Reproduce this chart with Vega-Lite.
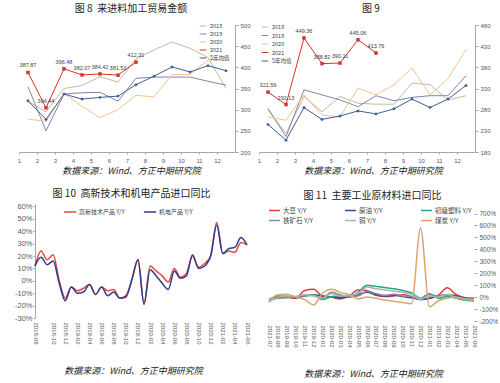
{
  "$schema": "https://vega.github.io/schema/vega-lite/v6.json",
  "padding": {"left": 14, "top": 4, "right": 0, "bottom": 0},
  "background": "white",
  "config": {
    "view": {"stroke": null},
    "font": "Noto Sans CJK SC",
    "title": {"font": "Noto Sans CJK SC", "fontSize": 10, "fontWeight": "normal", "color": "#222222", "offset": 8},
    "axis": {"labelFont": "Liberation Sans", "labelColor": "#595959", "domainColor": "#a6a6a6", "tickColor": "#a6a6a6", "grid": false, "titleFont": "Noto Sans CJK SC", "titleFontStyle": "italic", "titleFontWeight": "normal", "titleFontSize": 9, "titleColor": "#222222"},
    "legend": {"labelFont": "Noto Sans CJK SC", "labelColor": "#404040", "title": null, "padding": 0}
  },
  "resolve": {"scale": {"color": "independent", "shape": "independent", "strokeWidth": "independent", "x": "independent", "y": "independent"}},
  "columns": 2,
  "align": "each",
  "spacing": {"row": 14, "column": 6},
  "datasets": {
    "p1": [
      {"m": 1, "s": "2018", "v": 320}, {"m": 2, "s": "2018", "v": 295}, {"m": 3, "s": "2018", "v": 350}, {"m": 4, "s": "2018", "v": 357}, {"m": 5, "s": "2018", "v": 378}, {"m": 6, "s": "2018", "v": 365}, {"m": 7, "s": "2018", "v": 420}, {"m": 8, "s": "2018", "v": 441}, {"m": 9, "s": "2018", "v": 460}, {"m": 10, "s": "2018", "v": 445}, {"m": 11, "s": "2018", "v": 423}, {"m": 12, "s": "2018", "v": 350},
      {"m": 1, "s": "2019", "v": 354}, {"m": 2, "s": "2019", "v": 250}, {"m": 3, "s": "2019", "v": 337}, {"m": 4, "s": "2019", "v": 340}, {"m": 5, "s": "2019", "v": 341}, {"m": 6, "s": "2019", "v": 320}, {"m": 7, "s": "2019", "v": 374}, {"m": 8, "s": "2019", "v": 377}, {"m": 9, "s": "2019", "v": 377}, {"m": 10, "s": "2019", "v": 377}, {"m": 11, "s": "2019", "v": 367}, {"m": 12, "s": "2019", "v": 358},
      {"m": 1, "s": "2020", "v": 278}, {"m": 2, "s": "2020", "v": 272}, {"m": 3, "s": "2020", "v": 338}, {"m": 4, "s": "2020", "v": 308}, {"m": 5, "s": "2020", "v": 281}, {"m": 6, "s": "2020", "v": 300}, {"m": 7, "s": "2020", "v": 334}, {"m": 8, "s": "2020", "v": 330}, {"m": 9, "s": "2020", "v": 383}, {"m": 10, "s": "2020", "v": 383}, {"m": 11, "s": "2020", "v": 417}, {"m": 12, "s": "2020", "v": 417},
      {"m": 1, "s": "2021", "v": 387.87}, {"m": 2, "s": "2021", "v": 304.44}, {"m": 3, "s": "2021", "v": 396.48}, {"m": 4, "s": "2021", "v": 382.07}, {"m": 5, "s": "2021", "v": 384.42}, {"m": 6, "s": "2021", "v": 381.53}, {"m": 7, "s": "2021", "v": 412.31},
      {"m": 1, "s": "5年均值", "v": 321}, {"m": 2, "s": "5年均值", "v": 277}, {"m": 3, "s": "5年均值", "v": 337}, {"m": 4, "s": "5年均值", "v": 325}, {"m": 5, "s": "5年均值", "v": 329}, {"m": 6, "s": "5年均值", "v": 332}, {"m": 7, "s": "5年均值", "v": 359}, {"m": 8, "s": "5年均值", "v": 379}, {"m": 9, "s": "5年均值", "v": 401}, {"m": 10, "s": "5年均值", "v": 389}, {"m": 11, "s": "5年均值", "v": 404}, {"m": 12, "s": "5年均值", "v": 392}
    ],
    "p2": [
      {"m": 1, "s": "2018", "v": 279}, {"m": 2, "s": "2018", "v": 224}, {"m": 3, "s": "2018", "v": 311}, {"m": 4, "s": "2018", "v": 275}, {"m": 5, "s": "2018", "v": 311}, {"m": 6, "s": "2018", "v": 295}, {"m": 7, "s": "2018", "v": 293}, {"m": 8, "s": "2018", "v": 293}, {"m": 9, "s": "2018", "v": 343}, {"m": 10, "s": "2018", "v": 339}, {"m": 11, "s": "2018", "v": 303}, {"m": 12, "s": "2018", "v": 313},
      {"m": 1, "s": "2019", "v": 283}, {"m": 2, "s": "2019", "v": 216}, {"m": 3, "s": "2019", "v": 327}, {"m": 4, "s": "2019", "v": 315}, {"m": 5, "s": "2019", "v": 303}, {"m": 6, "s": "2019", "v": 287}, {"m": 7, "s": "2019", "v": 313}, {"m": 8, "s": "2019", "v": 301}, {"m": 9, "s": "2019", "v": 309}, {"m": 10, "s": "2019", "v": 313}, {"m": 11, "s": "2019", "v": 313}, {"m": 12, "s": "2019", "v": 360},
      {"m": 1, "s": "2020", "v": 263}, {"m": 2, "s": "2020", "v": 255}, {"m": 3, "s": "2020", "v": 315}, {"m": 4, "s": "2020", "v": 267}, {"m": 5, "s": "2020", "v": 263}, {"m": 6, "s": "2020", "v": 331}, {"m": 7, "s": "2020", "v": 315}, {"m": 8, "s": "2020", "v": 339}, {"m": 9, "s": "2020", "v": 378}, {"m": 10, "s": "2020", "v": 315}, {"m": 11, "s": "2020", "v": 353}, {"m": 12, "s": "2020", "v": 422},
      {"m": 1, "s": "2021", "v": 321.59}, {"m": 2, "s": "2021", "v": 292.13}, {"m": 3, "s": "2021", "v": 449.36}, {"m": 4, "s": "2021", "v": 388.82}, {"m": 5, "s": "2021", "v": 390.11}, {"m": 6, "s": "2021", "v": 445.06}, {"m": 7, "s": "2021", "v": 413.76},
      {"m": 1, "s": "5年均值", "v": 245}, {"m": 2, "s": "5年均值", "v": 208}, {"m": 3, "s": "5年均值", "v": 285}, {"m": 4, "s": "5年均值", "v": 257}, {"m": 5, "s": "5年均值", "v": 265}, {"m": 6, "s": "5年均值", "v": 277}, {"m": 7, "s": "5年均值", "v": 270}, {"m": 8, "s": "5年均值", "v": 282}, {"m": 9, "s": "5年均值", "v": 305}, {"m": 10, "s": "5年均值", "v": 285}, {"m": 11, "s": "5年均值", "v": 305}, {"m": 12, "s": "5年均值", "v": 337}
    ],
    "p3": [
      {"d": "2018-08", "a": 12, "b": 12}, {"d": "2018-09", "a": 17, "b": 13}, {"d": "2018-10", "a": 21, "b": 16}, {"d": "2018-11", "a": 0, "b": -2}, {"d": "2018-12", "a": -14, "b": -16},
      {"d": "2019-01", "a": -5, "b": -5}, {"d": "2019-02", "a": -8, "b": -10}, {"d": "2019-03", "a": -6, "b": -9}, {"d": "2019-04", "a": -3, "b": -3}, {"d": "2019-05", "a": -11, "b": -11}, {"d": "2019-06", "a": -5, "b": -5}, {"d": "2019-07", "a": -8, "b": -12}, {"d": "2019-08", "a": -7, "b": -9}, {"d": "2019-09", "a": -14, "b": -14}, {"d": "2019-10", "a": -12, "b": -13}, {"d": "2019-11", "a": 1, "b": 1}, {"d": "2019-12", "a": 17, "b": 17},
      {"d": "2020-01", "a": -18, "b": -19}, {"d": "2020-02", "a": 12, "b": 9}, {"d": "2020-03", "a": 8, "b": 4}, {"d": "2020-04", "a": 4, "b": -2}, {"d": "2020-05", "a": -1, "b": -7}, {"d": "2020-06", "a": 10, "b": 8}, {"d": "2020-07", "a": 3, "b": 2}, {"d": "2020-08", "a": 6, "b": 4}, {"d": "2020-09", "a": 20, "b": 21}, {"d": "2020-10", "a": 11, "b": 10}, {"d": "2020-11", "a": 14, "b": 12}, {"d": "2020-12", "a": 20, "b": 20},
      {"d": "2021-01", "a": 47, "b": 45}, {"d": "2021-02", "a": 22, "b": 22}, {"d": "2021-03", "a": 24, "b": 26}, {"d": "2021-04", "a": 23, "b": 27}, {"d": "2021-05", "a": 31, "b": 35}, {"d": "2021-06", "a": 29, "b": 29}, {"d": "2021-07", "a": 24, "b": 19}
    ],
    "p4": [
      {"d": "2019-08", "s": "大豆 Y/Y", "v": 5}, {"d": "2019-09", "s": "大豆 Y/Y", "v": 0}, {"d": "2019-10", "s": "大豆 Y/Y", "v": -10}, {"d": "2019-11", "s": "大豆 Y/Y", "v": 55}, {"d": "2019-12", "s": "大豆 Y/Y", "v": 65}, {"d": "2020-01", "s": "大豆 Y/Y", "v": 10}, {"d": "2020-02", "s": "大豆 Y/Y", "v": 0}, {"d": "2020-03", "s": "大豆 Y/Y", "v": -15}, {"d": "2020-04", "s": "大豆 Y/Y", "v": 10}, {"d": "2020-05", "s": "大豆 Y/Y", "v": 60}, {"d": "2020-06", "s": "大豆 Y/Y", "v": 55}, {"d": "2020-07", "s": "大豆 Y/Y", "v": 15}, {"d": "2020-08", "s": "大豆 Y/Y", "v": 5}, {"d": "2020-09", "s": "大豆 Y/Y", "v": 10}, {"d": "2020-10", "s": "大豆 Y/Y", "v": 20}, {"d": "2020-11", "s": "大豆 Y/Y", "v": 5}, {"d": "2020-12", "s": "大豆 Y/Y", "v": -20}, {"d": "2021-01", "s": "大豆 Y/Y", "v": -10}, {"d": "2021-02", "s": "大豆 Y/Y", "v": 15}, {"d": "2021-03", "s": "大豆 Y/Y", "v": 78}, {"d": "2021-04", "s": "大豆 Y/Y", "v": 20}, {"d": "2021-05", "s": "大豆 Y/Y", "v": -5}, {"d": "2021-06", "s": "大豆 Y/Y", "v": -10}, {"d": "2021-07", "s": "大豆 Y/Y", "v": -20},
      {"d": "2019-08", "s": "原油 Y/Y", "v": 0}, {"d": "2019-09", "s": "原油 Y/Y", "v": 5}, {"d": "2019-10", "s": "原油 Y/Y", "v": -5}, {"d": "2019-11", "s": "原油 Y/Y", "v": 10}, {"d": "2019-12", "s": "原油 Y/Y", "v": 20}, {"d": "2020-01", "s": "原油 Y/Y", "v": 10}, {"d": "2020-02", "s": "原油 Y/Y", "v": 0}, {"d": "2020-03", "s": "原油 Y/Y", "v": -5}, {"d": "2020-04", "s": "原油 Y/Y", "v": 0}, {"d": "2020-05", "s": "原油 Y/Y", "v": 20}, {"d": "2020-06", "s": "原油 Y/Y", "v": 40}, {"d": "2020-07", "s": "原油 Y/Y", "v": 20}, {"d": "2020-08", "s": "原油 Y/Y", "v": 10}, {"d": "2020-09", "s": "原油 Y/Y", "v": 15}, {"d": "2020-10", "s": "原油 Y/Y", "v": 5}, {"d": "2020-11", "s": "原油 Y/Y", "v": -5}, {"d": "2020-12", "s": "原油 Y/Y", "v": -20}, {"d": "2021-01", "s": "原油 Y/Y", "v": -10}, {"d": "2021-02", "s": "原油 Y/Y", "v": 10}, {"d": "2021-03", "s": "原油 Y/Y", "v": 20}, {"d": "2021-04", "s": "原油 Y/Y", "v": 10}, {"d": "2021-05", "s": "原油 Y/Y", "v": -10}, {"d": "2021-06", "s": "原油 Y/Y", "v": -25}, {"d": "2021-07", "s": "原油 Y/Y", "v": -30},
      {"d": "2019-08", "s": "初级塑料 Y/Y", "v": 10}, {"d": "2019-09", "s": "初级塑料 Y/Y", "v": 5}, {"d": "2019-10", "s": "初级塑料 Y/Y", "v": 0}, {"d": "2019-11", "s": "初级塑料 Y/Y", "v": 20}, {"d": "2019-12", "s": "初级塑料 Y/Y", "v": 15}, {"d": "2020-01", "s": "初级塑料 Y/Y", "v": -20}, {"d": "2020-02", "s": "初级塑料 Y/Y", "v": 5}, {"d": "2020-03", "s": "初级塑料 Y/Y", "v": 10}, {"d": "2020-04", "s": "初级塑料 Y/Y", "v": 0}, {"d": "2020-05", "s": "初级塑料 Y/Y", "v": 40}, {"d": "2020-06", "s": "初级塑料 Y/Y", "v": 100}, {"d": "2020-07", "s": "初级塑料 Y/Y", "v": 90}, {"d": "2020-08", "s": "初级塑料 Y/Y", "v": 80}, {"d": "2020-09", "s": "初级塑料 Y/Y", "v": 70}, {"d": "2020-10", "s": "初级塑料 Y/Y", "v": 55}, {"d": "2020-11", "s": "初级塑料 Y/Y", "v": 35}, {"d": "2020-12", "s": "初级塑料 Y/Y", "v": -10}, {"d": "2021-01", "s": "初级塑料 Y/Y", "v": 30}, {"d": "2021-02", "s": "初级塑料 Y/Y", "v": -10}, {"d": "2021-03", "s": "初级塑料 Y/Y", "v": 5}, {"d": "2021-04", "s": "初级塑料 Y/Y", "v": -10}, {"d": "2021-05", "s": "初级塑料 Y/Y", "v": -25}, {"d": "2021-06", "s": "初级塑料 Y/Y", "v": -35}, {"d": "2021-07", "s": "初级塑料 Y/Y", "v": -40},
      {"d": "2019-08", "s": "铁矿石 Y/Y", "v": -10}, {"d": "2019-09", "s": "铁矿石 Y/Y", "v": -5}, {"d": "2019-10", "s": "铁矿石 Y/Y", "v": 5}, {"d": "2019-11", "s": "铁矿石 Y/Y", "v": 10}, {"d": "2019-12", "s": "铁矿石 Y/Y", "v": 15}, {"d": "2020-01", "s": "铁矿石 Y/Y", "v": -5}, {"d": "2020-02", "s": "铁矿石 Y/Y", "v": 40}, {"d": "2020-03", "s": "铁矿石 Y/Y", "v": 20}, {"d": "2020-04", "s": "铁矿石 Y/Y", "v": 5}, {"d": "2020-05", "s": "铁矿石 Y/Y", "v": 10}, {"d": "2020-06", "s": "铁矿石 Y/Y", "v": 50}, {"d": "2020-07", "s": "铁矿石 Y/Y", "v": 30}, {"d": "2020-08", "s": "铁矿石 Y/Y", "v": 15}, {"d": "2020-09", "s": "铁矿石 Y/Y", "v": 25}, {"d": "2020-10", "s": "铁矿石 Y/Y", "v": 10}, {"d": "2020-11", "s": "铁矿石 Y/Y", "v": 5}, {"d": "2020-12", "s": "铁矿石 Y/Y", "v": -20}, {"d": "2021-01", "s": "铁矿石 Y/Y", "v": 20}, {"d": "2021-02", "s": "铁矿石 Y/Y", "v": 10}, {"d": "2021-03", "s": "铁矿石 Y/Y", "v": 20}, {"d": "2021-04", "s": "铁矿石 Y/Y", "v": 0}, {"d": "2021-05", "s": "铁矿石 Y/Y", "v": -15}, {"d": "2021-06", "s": "铁矿石 Y/Y", "v": -25}, {"d": "2021-07", "s": "铁矿石 Y/Y", "v": -30},
      {"d": "2019-08", "s": "铜 Y/Y", "v": 0}, {"d": "2019-09", "s": "铜 Y/Y", "v": 10}, {"d": "2019-10", "s": "铜 Y/Y", "v": 5}, {"d": "2019-11", "s": "铜 Y/Y", "v": 20}, {"d": "2019-12", "s": "铜 Y/Y", "v": 10}, {"d": "2020-01", "s": "铜 Y/Y", "v": -10}, {"d": "2020-02", "s": "铜 Y/Y", "v": 30}, {"d": "2020-03", "s": "铜 Y/Y", "v": 10}, {"d": "2020-04", "s": "铜 Y/Y", "v": 15}, {"d": "2020-05", "s": "铜 Y/Y", "v": 30}, {"d": "2020-06", "s": "铜 Y/Y", "v": 85}, {"d": "2020-07", "s": "铜 Y/Y", "v": 70}, {"d": "2020-08", "s": "铜 Y/Y", "v": 60}, {"d": "2020-09", "s": "铜 Y/Y", "v": 50}, {"d": "2020-10", "s": "铜 Y/Y", "v": 40}, {"d": "2020-11", "s": "铜 Y/Y", "v": 25}, {"d": "2020-12", "s": "铜 Y/Y", "v": -15}, {"d": "2021-01", "s": "铜 Y/Y", "v": 10}, {"d": "2021-02", "s": "铜 Y/Y", "v": 0}, {"d": "2021-03", "s": "铜 Y/Y", "v": 25}, {"d": "2021-04", "s": "铜 Y/Y", "v": -5}, {"d": "2021-05", "s": "铜 Y/Y", "v": -15}, {"d": "2021-06", "s": "铜 Y/Y", "v": -30}, {"d": "2021-07", "s": "铜 Y/Y", "v": -35},
      {"d": "2019-08", "s": "煤炭 Y/Y", "v": 20}, {"d": "2019-09", "s": "煤炭 Y/Y", "v": 25}, {"d": "2019-10", "s": "煤炭 Y/Y", "v": 0}, {"d": "2019-11", "s": "煤炭 Y/Y", "v": -20}, {"d": "2019-12", "s": "煤炭 Y/Y", "v": -65}, {"d": "2020-01", "s": "煤炭 Y/Y", "v": 30}, {"d": "2020-02", "s": "煤炭 Y/Y", "v": 65}, {"d": "2020-03", "s": "煤炭 Y/Y", "v": 40}, {"d": "2020-04", "s": "煤炭 Y/Y", "v": 20}, {"d": "2020-05", "s": "煤炭 Y/Y", "v": -15}, {"d": "2020-06", "s": "煤炭 Y/Y", "v": 0}, {"d": "2020-07", "s": "煤炭 Y/Y", "v": -10}, {"d": "2020-08", "s": "煤炭 Y/Y", "v": -25}, {"d": "2020-09", "s": "煤炭 Y/Y", "v": -35}, {"d": "2020-10", "s": "煤炭 Y/Y", "v": -45}, {"d": "2020-11", "s": "煤炭 Y/Y", "v": -55}, {"d": "2020-12", "s": "煤炭 Y/Y", "v": 580}, {"d": "2021-01", "s": "煤炭 Y/Y", "v": -80}, {"d": "2021-02", "s": "煤炭 Y/Y", "v": -30}, {"d": "2021-03", "s": "煤炭 Y/Y", "v": -10}, {"d": "2021-04", "s": "煤炭 Y/Y", "v": 0}, {"d": "2021-05", "s": "煤炭 Y/Y", "v": -15}, {"d": "2021-06", "s": "煤炭 Y/Y", "v": -20}, {"d": "2021-07", "s": "煤炭 Y/Y", "v": -30}
    ]
  },
  "concat": [
    {
      "width": 216, "height": 127,
      "title": {"text": "图 8\u00a0\u00a0来进料加工贸易金额", "dx": 4},
      "data": {"name": "p1"},
      "encoding": {
        "x": {"field": "m", "type": "quantitative", "scale": {"domain": [0.5, 12.5], "nice": false}, "axis": {"values": [1, 2, 3, 4, 5, 6, 7, 8, 9, 10, 11, 12], "labelFontSize": 6, "tickSize": 2, "tickOffset": -9, "labelPadding": 3, "title": "数据来源：Wind、方正中期研究院", "titlePadding": 3, "titleX": 112}},
        "y": {"field": "v", "type": "quantitative", "scale": {"domain": [200, 500], "nice": false, "zero": false}, "axis": {"orient": "right", "values": [200, 250, 300, 350, 400, 450, 500], "labelFontSize": 6, "tickSize": 3, "labelPadding": 2, "title": null}}
      },
      "layer": [
        {
          "mark": {"type": "line", "strokeJoin": "round"},
          "encoding": {
            "color": {"field": "s", "type": "nominal", "scale": {"domain": ["2018", "2019", "2020", "2021", "5年均值"], "range": ["#c4b9a4", "#7d86b3", "#f5c38f", "#d0342c", "#3f5f95"]},
              "legend": {"orient": "none", "legendX": 180, "legendY": -3, "symbolType": "stroke", "symbolSize": 45, "symbolStrokeWidth": 1.5, "labelFontSize": 5.5, "rowPadding": 0, "labelOffset": 3}},
            "strokeWidth": {"field": "s", "type": "nominal", "scale": {"domain": ["2018", "2019", "2020", "2021", "5年均值"], "range": [1, 1, 1, 2.2, 1]}, "legend": null}
          }
        },
        {
          "transform": [{"filter": "datum.s === '2021' || datum.s === '5年均值'"}],
          "mark": {"type": "point", "filled": true, "opacity": 1, "size": 12},
          "encoding": {
            "color": {"field": "s", "type": "nominal", "scale": {"domain": ["2018", "2019", "2020", "2021", "5年均值"], "range": ["#c4b9a4", "#7d86b3", "#f5c38f", "#d0342c", "#3f5f95"]}, "legend": null},
            "shape": {"field": "s", "type": "nominal", "scale": {"domain": ["2021", "5年均值"], "range": ["square", "diamond"]}, "legend": null}
          }
        },
        {
          "transform": [{"filter": "datum.s === '2021'"}],
          "mark": {"type": "text", "dy": -7, "fontSize": 5.5, "color": "#404040", "font": "Liberation Sans"},
          "encoding": {"text": {"field": "v", "type": "quantitative", "format": ".2f"}}
        },
        {
          "data": {"values": [{}]},
          "mark": {"type": "text", "color": "#d0342c", "fontSize": 7.5, "fontWeight": "bold", "font": "Noto Sans CJK SC"},
          "encoding": {"x": {"datum": 6.74, "type": "quantitative"}, "y": {"datum": 490, "type": "quantitative"}, "text": {"value": "进口：来进料加工贸易"}}
        }
      ]
    },
    {
      "width": 216, "height": 127,
      "title": {"text": "图 9", "dx": 4},
      "data": {"name": "p2"},
      "encoding": {
        "x": {"field": "m", "type": "quantitative", "scale": {"domain": [0.5, 12.5], "nice": false}, "axis": {"values": [1, 2, 3, 4, 5, 6, 7, 8, 9, 10, 11, 12], "labelFontSize": 6, "tickSize": 2, "tickOffset": -9, "labelPadding": 3, "title": "数据来源：Wind、方正中期研究院", "titlePadding": 3, "titleX": 114}},
        "y": {"field": "v", "type": "quantitative", "scale": {"domain": [180, 480], "nice": false, "zero": false}, "axis": {"orient": "right", "values": [180, 230, 280, 330, 380, 430, 480], "labelFontSize": 6, "tickSize": 3, "labelPadding": 2, "title": null}}
      },
      "layer": [
        {
          "mark": {"type": "line", "strokeJoin": "round"},
          "encoding": {
            "color": {"field": "s", "type": "nominal", "scale": {"domain": ["2018", "2019", "2020", "2021", "5年均值"], "range": ["#c4b9a4", "#7d86b3", "#f5c38f", "#d0342c", "#3f5f95"]},
              "legend": {"orient": "none", "legendX": 2, "legendY": -2, "symbolType": "stroke", "symbolSize": 45, "symbolStrokeWidth": 1.5, "labelFontSize": 5.5, "rowPadding": 0.5, "labelOffset": 3}},
            "strokeWidth": {"field": "s", "type": "nominal", "scale": {"domain": ["2018", "2019", "2020", "2021", "5年均值"], "range": [1, 1, 1, 2.2, 1]}, "legend": null}
          }
        },
        {
          "transform": [{"filter": "datum.s === '2021' || datum.s === '5年均值'"}],
          "mark": {"type": "point", "filled": true, "opacity": 1, "size": 12},
          "encoding": {
            "color": {"field": "s", "type": "nominal", "scale": {"domain": ["2018", "2019", "2020", "2021", "5年均值"], "range": ["#c4b9a4", "#7d86b3", "#f5c38f", "#d0342c", "#3f5f95"]}, "legend": null},
            "shape": {"field": "s", "type": "nominal", "scale": {"domain": ["2021", "5年均值"], "range": ["square", "diamond"]}, "legend": null}
          }
        },
        {
          "transform": [{"filter": "datum.s === '2021'"}],
          "mark": {"type": "text", "dy": -7, "fontSize": 5.5, "color": "#404040", "font": "Liberation Sans"},
          "encoding": {"text": {"field": "v", "type": "quantitative", "format": ".2f"}}
        },
        {
          "data": {"values": [{}]},
          "mark": {"type": "text", "color": "#d0342c", "fontSize": 7.5, "fontWeight": "bold", "font": "Noto Sans CJK SC"},
          "encoding": {"x": {"datum": 6.77, "type": "quantitative"}, "y": {"datum": 470, "type": "quantitative"}, "text": {"value": "进口：海关监管和保税区贸易"}}
        }
      ]
    },
    {
      "width": 231, "height": 114,
      "title": {"text": "图 10\u00a0\u00a0高新技术和机电产品进口同比", "dx": -3, "offset": 3},
      "data": {"name": "p3"},
      "transform": [{"fold": ["a", "b"], "as": ["k", "v"]}, {"calculate": "datum.k === 'a' ? '高新技术产品 Y/Y' : '机电产品 Y/Y'", "as": "s"}],
      "encoding": {
        "x": {"field": "d", "type": "ordinal", "sort": null, "scale": {"type": "point", "padding": 0, "range": [16, 228]}, "axis": {"values": ["2018-08", "2018-10", "2018-12", "2019-02", "2019-04", "2019-06", "2019-08", "2019-10", "2019-12", "2020-02", "2020-04", "2020-06", "2020-08", "2020-10", "2020-12", "2021-02", "2021-04", "2021-06"], "labelAngle": 90, "labelFontSize": 6, "domain": false, "ticks": false, "labelPadding": 4, "title": "数据来源：Wind、方正中期研究院", "titlePadding": 22, "titleX": 114}},
        "y": {"field": "v", "type": "quantitative", "scale": {"domain": [-30, 62], "nice": false, "zero": false}, "axis": {"orient": "left", "offset": -16, "values": [-30, -20, -10, 0, 10, 20, 30, 40, 50, 60], "labelExpr": "datum.value + '%'", "labelFontSize": 7.5, "tickSize": 2, "labelPadding": 1, "title": null}}
      },
      "layer": [
        {
          "data": {"values": [{}]},
          "mark": {"type": "rule", "color": "#a6a6a6", "strokeWidth": 1},
          "encoding": {"x": {"datum": "2018-08", "type": "ordinal"}, "x2": {"datum": "2021-07"}, "y": {"datum": 0, "type": "quantitative"}}
        },
        {
          "mark": {"type": "line", "interpolate": "monotone", "strokeWidth": 1.5},
          "encoding": {
            "color": {"field": "s", "type": "nominal", "scale": {"domain": ["高新技术产品 Y/Y", "机电产品 Y/Y"], "range": ["#e8463e", "#2e3d8f"]},
              "legend": {"orient": "none", "legendX": 44, "legendY": 1, "direction": "horizontal", "symbolType": "stroke", "symbolSize": 150, "symbolStrokeWidth": 1.5, "labelFontSize": 6, "columnPadding": 15, "labelOffset": 2}}
          }
        }
      ]
    },
    {
      "width": 215, "height": 117,
      "title": {"text": "图 11\u00a0\u00a0主要工业原材料进口同比", "dx": 6, "offset": 3},
      "data": {"name": "p4"},
      "encoding": {
        "x": {"field": "d", "type": "ordinal", "sort": null, "scale": {"type": "point", "padding": 0, "range": [10, 215]}, "axis": {"labelAngle": 90, "labelFontSize": 6, "domain": false, "ticks": false, "labelPadding": 4, "title": "数据来源：Wind、方正中期研究院", "titlePadding": 22, "titleX": 114}},
        "y": {"field": "v", "type": "quantitative", "scale": {"domain": [-200, 780], "nice": false, "zero": false}, "axis": {"orient": "right", "values": [-200, -100, 0, 100, 200, 300, 400, 500, 600, 700], "labelExpr": "datum.value + '%'", "labelFontSize": 6.5, "tickSize": 3, "labelPadding": 2, "domain": false, "title": null}}
      },
      "layer": [
        {
          "data": {"values": [{}]},
          "mark": {"type": "rule", "color": "#a6a6a6", "strokeWidth": 1},
          "encoding": {"x": {"datum": "2021-07", "type": "ordinal"}, "y": {"datum": -200, "type": "quantitative"}, "y2": {"datum": 700}}
        },
        {
          "mark": {"type": "line", "interpolate": "monotone", "strokeWidth": 1.5},
          "encoding": {
            "color": {"field": "s", "type": "nominal", "scale": {"domain": ["大豆 Y/Y", "原油 Y/Y", "初级塑料 Y/Y", "铁矿石 Y/Y", "铜 Y/Y", "煤炭 Y/Y"], "range": ["#e0393e", "#2a4d9b", "#22a77f", "#8e86a8", "#a3b8a8", "#d9a56c"]},
              "legend": {"orient": "none", "legendX": 9, "legendY": 0, "columns": 3, "direction": "horizontal", "gridAlign": "all", "symbolType": "stroke", "symbolSize": 120, "symbolStrokeWidth": 1.5, "labelFontSize": 6.5, "columnPadding": 22, "rowPadding": 0, "labelOffset": 2}}
          }
        }
      ]
    }
  ]
}
